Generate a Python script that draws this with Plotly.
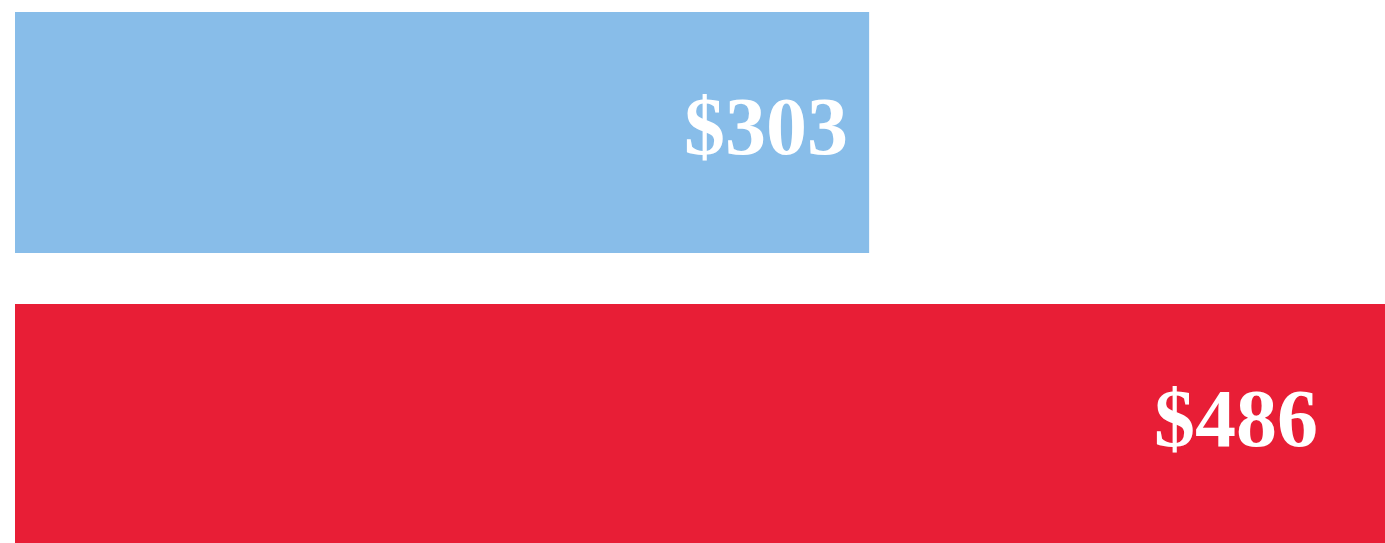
import plotly.graph_objects as go

categories = ["Second", "First"]
values = [486, 303]
labels = ["$486", "$303"]
colors = ["#E81E36", "#88BDE9"]
label_shift = [-65, -19]

fig = go.Figure()
fig.add_trace(go.Bar(
    y=categories, x=values, orientation="h",
    marker=dict(color=colors, line=dict(width=0)),
    width=0.825, textposition="none", hoverinfo="skip",
))
for c, v, t, s in zip(categories, values, labels, label_shift):
    fig.add_annotation(x=v, y=c, text="<b>" + t + "</b>", showarrow=False, xanchor="right",
                       yanchor="middle", xshift=s, yshift=6,
                       font=dict(family="Liberation Serif", size=82, color="white"))

fig.update_layout(
    width=1385, height=543,
    margin=dict(l=15, r=0, t=0, b=0),
    paper_bgcolor="white", plot_bgcolor="white",
    showlegend=False,
    xaxis=dict(range=[0, 486], visible=False, fixedrange=True),
    yaxis=dict(range=[-0.4058, 1.4538], visible=False, type="category"),
)
fig.write_html("out.html", config={"displayModeBar": False})
